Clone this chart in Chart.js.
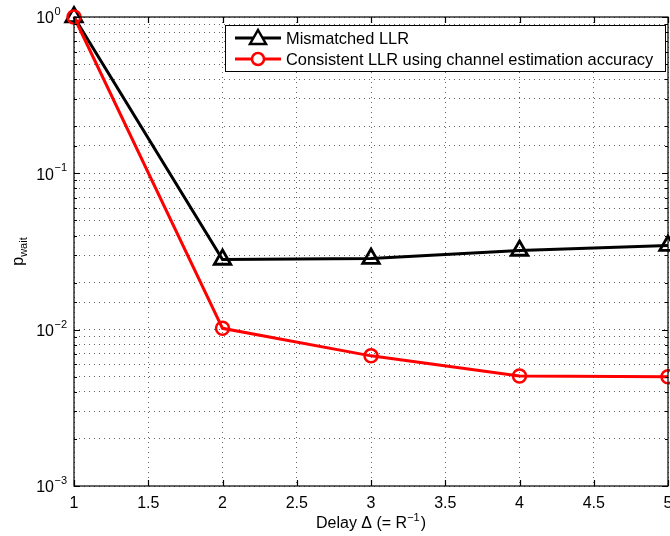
<!DOCTYPE html>
<html>
<head>
<meta charset="utf-8">
<script src="https://cdn.jsdelivr.net/npm/chart.js@4.4.0/dist/chart.umd.min.js"></script>
<style>
  html, body { margin: 0; padding: 0; background: #fff; }
  #wrap { width: 670px; height: 536px; }
</style>
</head>
<body>
<div id="wrap"><canvas id="chart" width="670" height="536"></canvas></div>
<script>
// data
let delays = [1, 2, 3, 4, 5];
let mismatched = [1.0, 0.0281, 0.0285, 0.0321, 0.0345];
let consistent = [1.0, 0.0102, 0.0068, 0.00505, 0.0050];
let seriesNames = ['Mismatched LLR', 'Consistent LLR using channel estimation accuracy'];
let xTicks = [1, 1.5, 2, 2.5, 3, 3.5, 4, 4.5, 5];
let yDecades = [0, -1, -2, -3];

let fontName = '"Liberation Sans", Arial, sans-serif';

// axes box, inward ticks, tick labels, titles, legend
let matlabLook = {
    id: 'matlabLook',
    afterDraw(chart){
        let ctx = chart.ctx;
        let xs = chart.scales.x;
        let ys = chart.scales.y;
        let a = chart.chartArea;
        ctx.save();
        ctx.strokeStyle = '#000';
        ctx.lineWidth = 1.2;
        ctx.setLineDash([]);
        ctx.strokeRect(a.left, a.top, a.right - a.left, a.bottom - a.top);

        // x ticks
        ctx.beginPath();
        for(let v of xTicks){
            let px = Math.round(xs.getPixelForValue(v)) + 0.5;
            ctx.moveTo(px, a.bottom); ctx.lineTo(px, a.bottom - 6);
            ctx.moveTo(px, a.top); ctx.lineTo(px, a.top + 6);
        }
        // y ticks (log, minor too)
        for(let t of ys.ticks){
            let py = Math.round(ys.getPixelForValue(t.value)) + 0.5;
            let m = Math.log10(t.value);
            let len = Math.abs(m - Math.round(m)) < 1e-6 ? 6 : 3;
            ctx.moveTo(a.left, py); ctx.lineTo(a.left + len, py);
            ctx.moveTo(a.right, py); ctx.lineTo(a.right - len, py);
        }
        ctx.stroke();

        ctx.fillStyle = '#000';
        // x tick labels
        ctx.font = '16px ' + fontName;
        ctx.textAlign = 'center';
        ctx.textBaseline = 'top';
        for(let v of xTicks){
            ctx.fillText(String(v), xs.getPixelForValue(v), a.bottom + 10);
        }
        // y tick labels 10^k
        for(let k of yDecades){
            let py = ys.getPixelForValue(Math.pow(10, k));
            ctx.font = '16px ' + fontName;
            ctx.textAlign = 'right';
            ctx.textBaseline = 'middle';
            ctx.fillText('10', 54, py + 2);
            ctx.font = '11px ' + fontName;
            ctx.textAlign = 'left';
            ctx.fillText(k === 0 ? '0' : '\u2212' + (-k), 54.5, py - 5);
        }

        // x title: Delay Δ (= R^-1)
        let t1 = 'Delay \u0394 (= R';
        let sup = '\u22121';
        ctx.textBaseline = 'alphabetic';
        ctx.font = '11px ' + fontName;
        let wSup = ctx.measureText(sup).width;
        ctx.font = '16px ' + fontName;
        let w1 = ctx.measureText(t1).width;
        let w2 = ctx.measureText(')').width;
        let total = w1 + wSup + w2 + 1;
        let cx = (a.left + a.right) / 2;
        let x0 = cx - total / 2;
        let by = 528;
        ctx.textAlign = 'left';
        ctx.fillText(t1, x0, by);
        ctx.font = '11px ' + fontName;
        ctx.fillText(sup, x0 + w1, by - 7);
        ctx.font = '16px ' + fontName;
        ctx.fillText(')', x0 + w1 + wSup + 1, by);

        // y title: p_wait (rotated)
        ctx.save();
        ctx.translate(23, (a.top + a.bottom) / 2);
        ctx.rotate(-Math.PI / 2);
        ctx.font = '16px ' + fontName;
        let wp = ctx.measureText('p').width;
        ctx.font = '11px ' + fontName;
        let ww = ctx.measureText('wait').width;
        let sx = -(wp + ww) / 2;
        ctx.font = '16px ' + fontName;
        ctx.fillText('p', sx, 0);
        ctx.font = '11px ' + fontName;
        ctx.fillText('wait', sx + wp, 4);
        ctx.restore();

        // legend
        let lx = 225, ly = 25, lw = 440, lh = 46;
        ctx.fillStyle = '#fff';
        ctx.fillRect(lx, ly, lw, lh);
        ctx.lineWidth = 1;
        ctx.strokeStyle = '#000';
        ctx.strokeRect(lx + 0.5, ly + 0.5, lw, lh);
        let rows = [ly + 13, ly + 34];
        chart.data.datasets.forEach((ds, i) => {
            let ry = rows[i];
            ctx.strokeStyle = ds.borderColor;
            ctx.lineWidth = 3;
            ctx.beginPath();
            ctx.moveTo(lx + 10, ry); ctx.lineTo(lx + 56, ry);
            ctx.stroke();
            ctx.lineWidth = 2.5;
            ctx.fillStyle = '#fff';
            ctx.beginPath();
            if(ds.pointStyle === 'triangle'){
                ctx.moveTo(lx + 33, ry - 8);
                ctx.lineTo(lx + 41, ry + 6);
                ctx.lineTo(lx + 25, ry + 6);
                ctx.closePath();
            } else {
                ctx.arc(lx + 33, ry, 6, 0, Math.PI * 2);
            }
            ctx.fill();
            ctx.stroke();
            ctx.fillStyle = '#000';
            ctx.font = '16.4px ' + fontName;
            ctx.textAlign = 'left';
            ctx.textBaseline = 'middle';
            ctx.fillText(ds.label, lx + 61, ry + 1);
        });
        ctx.restore();
    }
};

let points = (ys) => delays.map((d, i) => ({x: d, y: ys[i]}));

new Chart(document.getElementById('chart'), {
    type: 'line',
    data: {
        datasets: [{
            label: seriesNames[0],
            data: points(mismatched),
            borderColor: '#000',
            backgroundColor: '#fff',
            borderWidth: 3,
            pointStyle: 'triangle',
            pointRadius: 9.5,
            pointBorderWidth: 2.8,
            pointBackgroundColor: 'rgba(255,255,255,0)',
            clip: false,
            order: 1
        }, {
            label: seriesNames[1],
            data: points(consistent),
            borderColor: '#ff0000',
            backgroundColor: '#fff',
            borderWidth: 3,
            pointStyle: 'circle',
            pointRadius: 6.5,
            pointBorderWidth: 2.5,
            pointBackgroundColor: 'rgba(255,255,255,0)',
            clip: false,
            order: 0
        }]
    },
    options: {
        responsive: false,
        animation: false,
        layout: { autoPadding: false, padding: { left: 74, right: 2, top: 17, bottom: 50 } },
        plugins: { legend: { display: false }, tooltip: { enabled: false } },
        scales: {
            x: {
                type: 'linear',
                min: 1, max: 5,
                ticks: { display: false, stepSize: 0.5, autoSkip: false },
                grid: { color: 'rgba(0,0,0,0.6)', lineWidth: 1, drawTicks: false },
                border: { display: false, dash: [1, 4] }
            },
            y: {
                type: 'logarithmic',
                min: 0.001, max: 1,
                ticks: { display: false, autoSkip: false },
                grid: { color: 'rgba(0,0,0,0.6)', lineWidth: 1, drawTicks: false },
                border: { display: false, dash: [1, 4] }
            }
        }
    },
    plugins: [matlabLook]
});
</script>
</body>
</html>
